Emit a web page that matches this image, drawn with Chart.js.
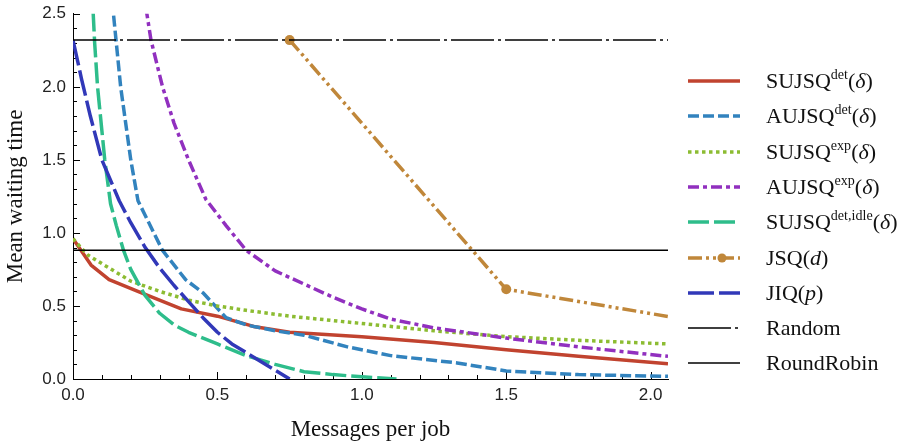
<!DOCTYPE html>
<html>
<head>
<meta charset="utf-8">
<script src="https://cdn.jsdelivr.net/npm/chart.js@4.4.0/dist/chart.umd.min.js"></script>
<style>
body{margin:0;background:#fff;}
#wrap{position:relative;width:918px;height:441px;}
#legend{position:absolute;left:688px;top:0;font-family:"Liberation Serif",serif;font-size:22px;color:#111;}
.row{position:absolute;left:0;height:36px;display:flex;align-items:center;white-space:nowrap;}
.row svg{width:52px;height:14px;margin-right:26px;flex:none;}
sup{font-size:0.64em;vertical-align:0.62em;line-height:0;}
</style>
</head>
<body>
<div id="wrap">
  <canvas id="chart" width="918" height="441"></canvas>
  <div id="legend"></div>
</div>
<script>
// values: [messages per job, mean waiting time]
const sujsqDet = [[0,0.96],[0.0625,0.78],[0.125,0.68],[0.25,0.58],[0.375,0.48],[0.5,0.43],[0.625,0.36],[0.75,0.32],[1.0,0.29],[1.25,0.25],[1.5,0.20],[1.75,0.155],[2.06,0.105]];
const aujsqDet = [[0.125,3.0],[0.14,2.5],[0.165,2.0],[0.2,1.5],[0.225,1.22],[0.31,0.88],[0.39,0.68],[0.45,0.59],[0.53,0.42],[0.6,0.37],[0.7,0.33],[0.8,0.30],[0.95,0.22],[1.1,0.16],[1.33,0.11],[1.5,0.055],[1.75,0.03],[2.06,0.018]];
const sujsqExp = [[0,0.96],[0.05,0.85],[0.1,0.79],[0.2,0.67],[0.3,0.6],[0.4,0.54],[0.5,0.5],[0.6,0.47],[0.75,0.43],[1.0,0.38],[1.25,0.33],[1.5,0.29],[1.75,0.265],[2.06,0.24]];
const aujsqExp = [[0.24,2.7],[0.27,2.32],[0.31,2.0],[0.35,1.75],[0.4,1.5],[0.46,1.23],[0.53,1.05],[0.6,0.88],[0.7,0.74],[0.8,0.65],[0.9,0.56],[1.0,0.48],[1.1,0.41],[1.25,0.35],[1.5,0.28],[1.75,0.22],[2.06,0.155]];
const sujsqIdle = [[0.065,2.7],[0.075,2.3],[0.085,2.0],[0.1,1.7],[0.11,1.5],[0.13,1.2],[0.15,1.05],[0.175,0.88],[0.2,0.75],[0.25,0.57],[0.3,0.45],[0.35,0.37],[0.4,0.32],[0.5,0.24],[0.6,0.16],[0.7,0.1],[0.8,0.05],[0.9,0.03],[1.0,0.015],[1.12,0.0]];
const jsqD = [[0.75,2.32],[1.5,0.614],[2.25,0.365]];
const jiqP = [[0,2.32],[0.03,2.05],[0.06,1.8],[0.1,1.5],[0.16,1.22],[0.2,1.07],[0.25,0.9],[0.3,0.76],[0.35,0.64],[0.4,0.53],[0.45,0.42],[0.5,0.32],[0.55,0.24],[0.6,0.18],[0.65,0.12],[0.7,0.06],[0.75,0.0]];
const randomRef = [[0,2.32],[2.06,2.32]];
const roundRobinRef = [[0,0.882],[2.06,0.882]];

const xTicks = [0,0.5,1.0,1.5,2.0];
const yTicks = [0,0.5,1.0,1.5,2.0,2.5];

const series = [
  {label:'SUJSQ<sup>det</sup>(<i>δ</i>)', data:sujsqDet, color:'#c1432f', dash:[], width:3.5},
  {label:'AUJSQ<sup>det</sup>(<i>δ</i>)', data:aujsqDet, color:'#3283be', dash:[11,4], width:3.5},
  {label:'SUJSQ<sup>exp</sup>(<i>δ</i>)', data:sujsqExp, color:'#8cbc32', dash:[3.5,3.5], width:3.5},
  {label:'AUJSQ<sup>exp</sup>(<i>δ</i>)', data:aujsqExp, color:'#9130bf', dash:[11,4,4,4], width:3.5},
  {label:'SUJSQ<sup>det,idle</sup>(<i>δ</i>)', data:sujsqIdle, color:'#2ebd8b', dash:[21,5], width:3.5},
  {label:'JSQ(<i>d</i>)', data:jsqD, color:'#c0873a', dash:[14,4,3,4,3,4], width:3.5, marker:true},
  {label:'JIQ(<i>p</i>)', data:jiqP, color:'#3138b8', dash:[26,5], width:3.5},
  {label:'Random', data:randomRef, color:'#000', dash:[43,4,3,4], width:1.5},
  {label:'RoundRobin', data:roundRobinRef, color:'#000', dash:[], width:1.5}
];

const tickMarks = {
  id:'tickMarks',
  beforeDatasetsDraw(chart){
    const {ctx, chartArea:a, scales:{x, y}} = chart;
    ctx.save();
    ctx.strokeStyle = '#000';
    ctx.lineWidth = 1;
    ctx.beginPath();
    for (let i = 0; i <= 20; i++) {
      const px = Math.round(x.getPixelForValue(i/10)) + 0.5;
      const len = i % 5 === 0 ? 7 : 4;
      ctx.moveTo(px, a.bottom); ctx.lineTo(px, a.bottom - len);
    }
    for (let i = 0; i <= 25; i++) {
      const py = Math.round(y.getPixelForValue(i/10)) + 0.5;
      const len = i % 5 === 0 ? 7 : 4;
      ctx.moveTo(a.left, py); ctx.lineTo(a.left + len, py);
    }
    ctx.stroke();
    ctx.restore();
  }
};

new Chart(document.getElementById('chart'), {
  type:'line',
  data:{
    datasets: series.map((s, i) => ({
      label:s.label,
      data:s.data.map(p => ({x:p[0], y:p[1]})),
      borderColor:s.color,
      backgroundColor:s.color,
      borderWidth:s.width,
      borderDash:s.dash,
      borderCapStyle:'butt',
      borderJoinStyle:'round',
      pointRadius:s.marker ? 5 : 0,
      pointBorderWidth:0,
      pointBackgroundColor:s.color,
      tension:0,
      fill:false,
      order:20 - i
    }))
  },
  options:{
    responsive:false,
    devicePixelRatio:1,
    animation:false,
    layout:{padding:{left:0, top:13, right:250, bottom:0}},
    plugins:{legend:{display:false}, tooltip:{enabled:false}},
    scales:{
      x:{
        type:'linear', min:0, max:2.06,
        grid:{display:false, drawTicks:false},
        border:{display:true, color:'#000', width:1},
        ticks:{font:{family:'Liberation Sans', size:17}, color:'#222', padding:6, maxRotation:0, callback:v => v.toFixed(1)},
        afterBuildTicks:s => { s.ticks = xTicks.map(v => ({value:v})); },
        afterFit:s => { s.height = 62; },
        title:{display:true, text:'Messages per job', font:{family:'Liberation Serif', size:23, lineHeight:1.0}, color:'#111', padding:{top:0, bottom:0}}
      },
      y:{
        type:'linear', min:0, max:2.5,
        grid:{display:false, drawTicks:false},
        border:{display:true, color:'#000', width:1},
        ticks:{font:{family:'Liberation Sans', size:17, lineHeight:0.8}, color:'#222', padding:7, callback:v => v.toFixed(1)},
        afterBuildTicks:s => { s.ticks = yTicks.map(v => ({value:v})); },
        afterFit:s => { s.width = 73; },
        title:{display:true, text:'Mean waiting time', font:{family:'Liberation Serif', size:23}, color:'#111', padding:{top:2, bottom:0}}
      }
    }
  },
  plugins:[tickMarks]
});

// legend with superscripts
const legend = document.getElementById('legend');
series.forEach((s, i) => {
  const row = document.createElement('div');
  row.className = 'row';
  row.style.top = (81 + i * 35.3 - 18) + 'px';
  const dash = s.dash.length ? s.dash.join(',') : 'none';
  let svg = '<svg viewBox="0 0 52 14"><line x1="0" y1="7" x2="52" y2="7" stroke="' + s.color + '" stroke-width="' + s.width + '" stroke-dasharray="' + dash + '"/>';
  if (s.marker) svg += '<circle cx="34" cy="7" r="4.5" fill="' + s.color + '"/>';
  svg += '</svg>';
  row.innerHTML = svg + '<span>' + s.label + '</span>';
  legend.appendChild(row);
});
</script>
</body>
</html>
